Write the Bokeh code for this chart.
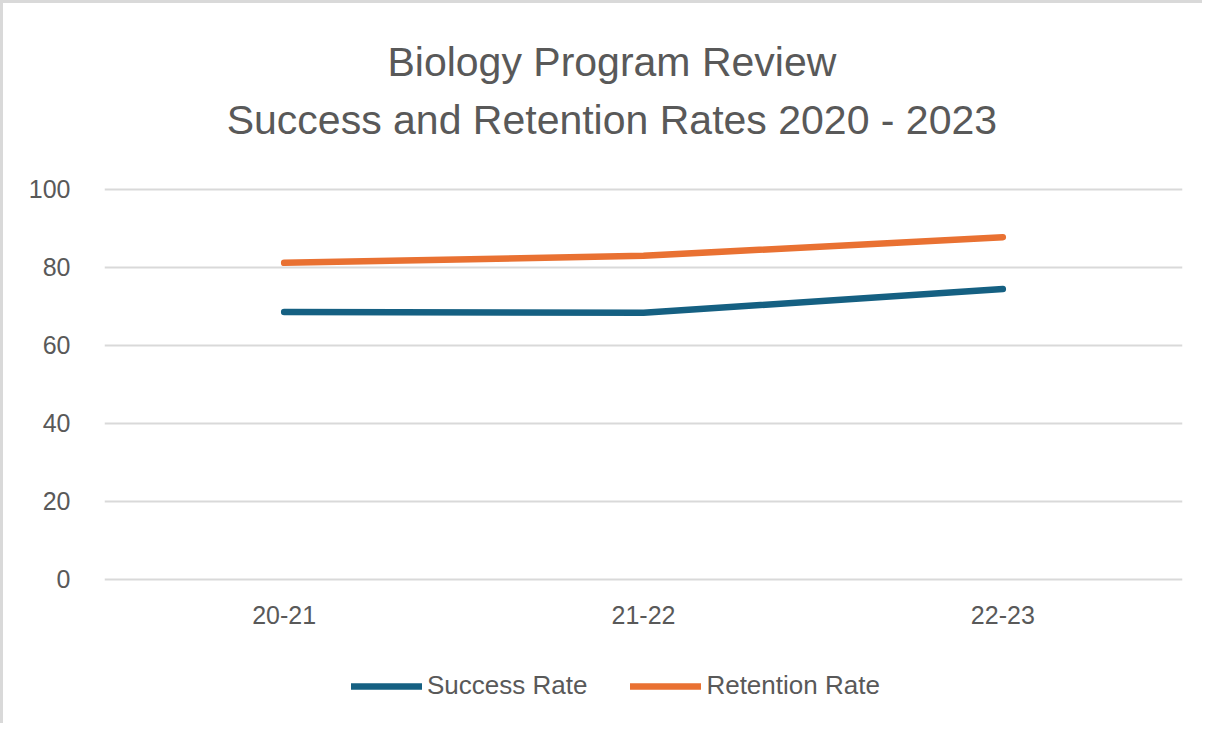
from bokeh.plotting import figure
from bokeh.models import FactorRange, Range1d, FixedTicker, Legend, LegendItem, Label
from bokeh.embed import file_html
from bokeh.resources import INLINE

years = ["20-21", "21-22", "22-23"]
success_rate = [68.5, 68.3, 74.4]
retention_rate = [81.1, 82.9, 87.7]
y_ticks = [0, 20, 40, 60, 80, 100]
title_lines = ["Biology Program Review", "Success and Retention Rates 2020 - 2023"]

TEXT = "#595959"
GRID = "#d9d9d9"
BLUE = "#156082"
ORANGE = "#E97132"

# frame spans the whole height; the value axis only shows 0..100
p = figure(frame_width=1078, frame_height=720, x_range=FactorRange(*years, range_padding=0),
           y_range=Range1d(-37.0, 147.6), output_backend="svg", toolbar_location=None,
           min_border_left=101, min_border_right=20, min_border_bottom=0, min_border_top=0)
p.styles = {"border-left": "3px solid #d9d9d9", "border-top": "3px solid #d9d9d9"}
p.outline_line_color = None

for txt, ty in zip(title_lines, [132.6, 117.7]):
    p.add_layout(Label(x=1.412, y=ty, text=txt, text_align="center", text_baseline="middle",
                       text_font="Liberation Sans", text_font_size="41px", text_color=TEXT))

r1 = p.line(years, success_rate, line_color=BLUE, line_width=6.5, line_cap="round", line_join="round")
r2 = p.line(years, retention_rate, line_color=ORANGE, line_width=6.5, line_cap="round", line_join="round")

p.yaxis.ticker = FixedTicker(ticks=y_ticks)
p.xaxis.fixed_location = 0
for ax in (p.xaxis[0], p.yaxis[0]):
    ax.axis_line_color = None
    ax.major_tick_line_color = None
    ax.minor_tick_line_color = None
    ax.major_label_text_color = TEXT
    ax.major_label_text_font = "Liberation Sans"
    ax.major_label_text_font_size = "25px"
p.yaxis.major_label_standoff = 28
p.xaxis.major_label_standoff = 21

p.xgrid.grid_line_color = None
p.ygrid.grid_line_color = GRID
p.ygrid.grid_line_width = 2

legend = Legend(items=[LegendItem(label="Success Rate", renderers=[r1]),
                       LegendItem(label="Retention Rate", renderers=[r2])],
                orientation="horizontal", location=(247, 22),
                label_text_font="Liberation Sans", label_text_font_size="26px",
                label_text_color=TEXT, glyph_width=71, label_standoff=5, spacing=43,
                border_line_color=None, background_fill_alpha=0, margin=0, padding=0)
p.add_layout(legend, "center")

open("out.html", "w").write(file_html(p, INLINE))
